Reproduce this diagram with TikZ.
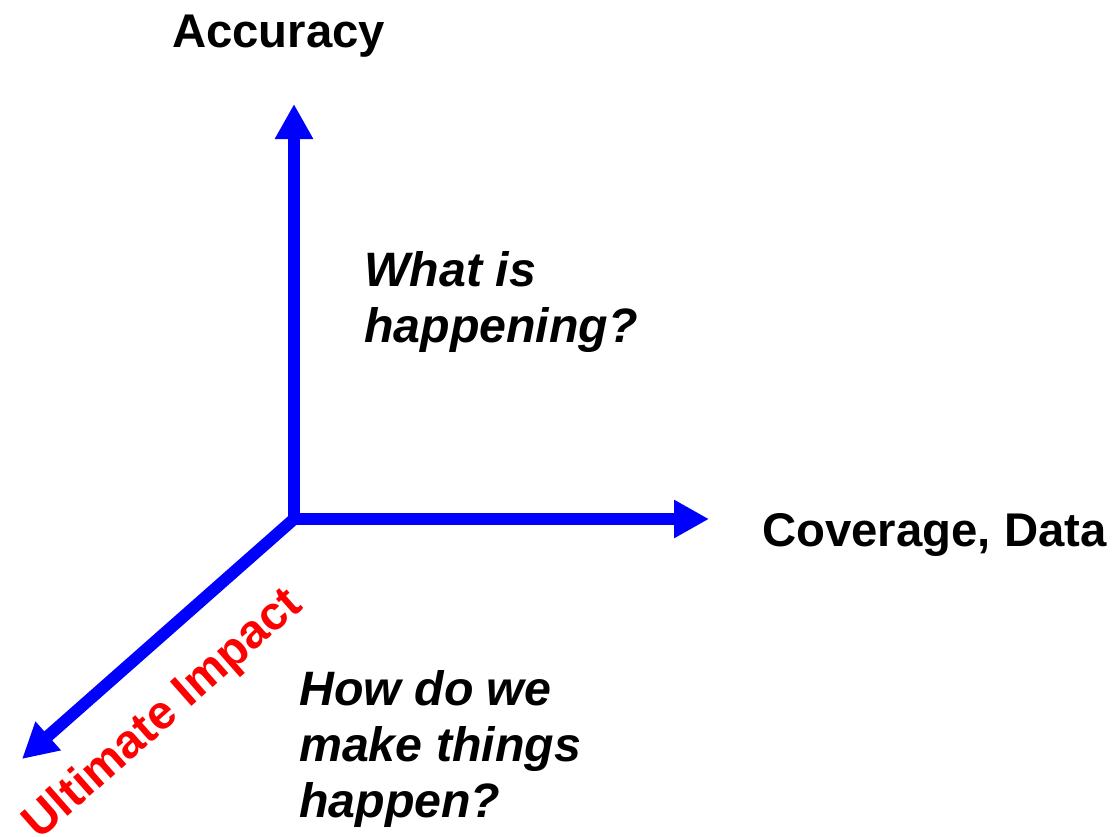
\documentclass[tikz,border=0pt]{standalone}
\usepackage{fontspec}
\setmainfont{Liberation Sans}
\usetikzlibrary{arrows.meta}
\definecolor{axisblue}{RGB}{0,0,255}
\definecolor{labelred}{RGB}{255,0,0}
\tikzset{
  axis/.style={draw=axisblue, line width=12pt, -{Triangle[length=35pt,width=36pt]}},
  axlabel/.style={inner sep=0pt, font=\fontsize{47.3}{56}\selectfont\bfseries},
  question/.style={inner sep=0pt, align=left, font=\fontsize{48.3}{56}\selectfont\bfseries\itshape},
}
\begin{document}
\begin{tikzpicture}[x=1pt,y=-1pt]
\useasboundingbox (0,0) rectangle (1115,836);
\coordinate (o) at (294,519);
\coordinate (up) at (294,104);
\coordinate (right) at (709,519);
\coordinate (diag) at (22,759);
\draw[axis] (o) -- (up);
\draw[axis] (o) -- (right);
\draw[axis] (o) -- (diag);
\node[axlabel, anchor=base west] (acc) at (172,47) {Accuracy};
\node[axlabel, anchor=base west] (cov) at (762,546) {Coverage, Data};
\node[question, anchor=north west] (what) at (364,251) {What is\\happening?};
\node[question, anchor=north west] (how) at (299,670) {How do we\\make things\\happen?};
\node[axlabel, text=labelred, rotate=41.4, anchor=center] (ult) at (164,715) {Ultimate Impact};
\end{tikzpicture}
\end{document}
